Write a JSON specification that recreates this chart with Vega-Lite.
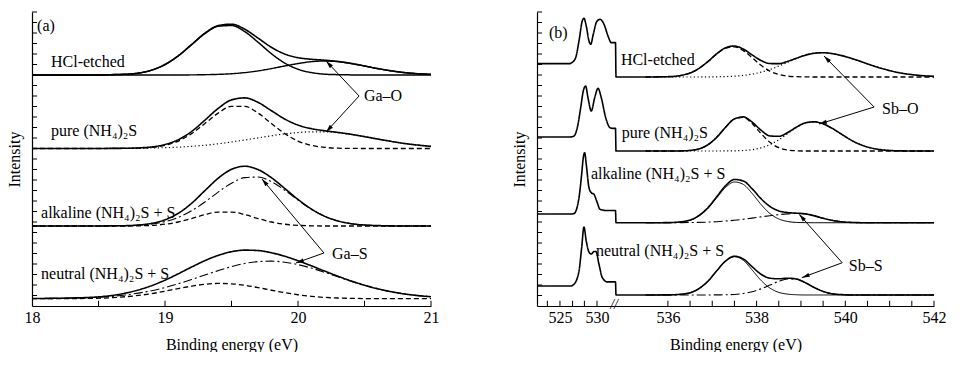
{
"$schema":"https://vega.github.io/schema/vega-lite/v6.json",
"background":"white",
"padding":{"left":6,"top":11,"right":0,"bottom":0},
"bounds":"flush",
"spacing":106,
"config":{"font":"Liberation Serif","view":{"stroke":null},
"axis":{"grid":false,"ticks":false,"domainColor":"black","labelColor":"black","titleColor":"black","labelFont":"Liberation Serif","titleFont":"Liberation Serif","labelFontSize":16,"titleFontSize":16,"titleFontWeight":"normal","domainWidth":1.2}},
"datasets":{
"a":[
{"s":"h","E":18.0,"env":22.00,"tA":22.00,"tB":22.00},
{"s":"h","E":18.4,"env":22.00,"tA":22.00,"tB":22.00},
{"s":"h","E":18.7,"env":22.07,"tA":22.07,"tB":22.00},
{"s":"h","E":18.9,"env":22.47,"tA":22.47,"tB":22.00},
{"s":"h","E":19.0,"env":23.00,"tA":23.00,"tB":22.00},
{"s":"h","E":19.1,"env":23.83,"tA":23.83,"tB":22.00},
{"s":"h","E":19.2,"env":24.90,"tA":24.89,"tB":22.01},
{"s":"h","E":19.3,"env":25.98,"tA":25.95,"tB":22.03},
{"s":"h","E":19.4,"env":26.70,"tA":26.64,"tB":22.06},
{"s":"h","E":19.5,"env":26.84,"tA":26.71,"tB":22.12},
{"s":"h","E":19.6,"env":26.36,"tA":26.13,"tB":22.23},
{"s":"h","E":19.7,"env":25.51,"tA":25.12,"tB":22.39},
{"s":"h","E":19.8,"env":24.64,"tA":24.03,"tB":22.61},
{"s":"h","E":19.9,"env":24.00,"tA":23.14,"tB":22.86},
{"s":"h","E":20.0,"env":23.65,"tA":22.55,"tB":23.09},
{"s":"h","E":20.1,"env":23.50,"tA":22.23,"tB":23.27},
{"s":"h","E":20.2,"env":23.41,"tA":22.08,"tB":23.33},
{"s":"h","E":20.3,"env":23.29,"tA":22.03,"tB":23.27},
{"s":"h","E":20.4,"env":23.10,"tA":22.01,"tB":23.09},
{"s":"h","E":20.5,"env":22.86,"tA":22.00,"tB":22.86},
{"s":"h","E":20.6,"env":22.61,"tA":22.00,"tB":22.61},
{"s":"h","E":20.8,"env":22.23,"tA":22.00,"tB":22.23},
{"s":"h","E":21.0,"env":22.06,"tA":22.00,"tB":22.06},
{"s":"p","E":18.0,"env":15.00,"dash":15.00,"dot":15.00},
{"s":"p","E":18.4,"env":15.00,"dash":15.00,"dot":15.00},
{"s":"p","E":18.7,"env":15.02,"dash":15.01,"dot":15.01},
{"s":"p","E":18.9,"env":15.15,"dash":15.11,"dot":15.05},
{"s":"p","E":19.0,"env":15.38,"dash":15.30,"dot":15.08},
{"s":"p","E":19.1,"env":15.84,"dash":15.71,"dot":15.13},
{"s":"p","E":19.2,"env":16.62,"dash":16.42,"dot":15.21},
{"s":"p","E":19.3,"env":17.70,"dash":17.38,"dot":15.31},
{"s":"p","E":19.4,"env":18.82,"dash":18.37,"dot":15.45},
{"s":"p","E":19.5,"env":19.63,"dash":19.01,"dot":15.62},
{"s":"p","E":19.6,"env":19.82,"dash":19.01,"dot":15.81},
{"s":"p","E":19.7,"env":19.39,"dash":18.37,"dot":16.01},
{"s":"p","E":19.8,"env":18.60,"dash":17.38,"dot":16.21},
{"s":"p","E":19.9,"env":17.81,"dash":16.42,"dot":16.39},
{"s":"p","E":20.0,"env":17.23,"dash":15.71,"dot":16.52},
{"s":"p","E":20.1,"env":16.89,"dash":15.30,"dot":16.59},
{"s":"p","E":20.2,"env":16.69,"dash":15.11,"dot":16.59},
{"s":"p","E":20.3,"env":16.53,"dash":15.03,"dot":16.50},
{"s":"p","E":20.4,"env":16.35,"dash":15.01,"dot":16.34},
{"s":"p","E":20.5,"env":16.13,"dash":15.00,"dot":16.13},
{"s":"p","E":20.6,"env":15.90,"dash":15.00,"dot":15.90},
{"s":"p","E":20.8,"env":15.48,"dash":15.00,"dot":15.48},
{"s":"p","E":21.0,"env":15.20,"dash":15.00,"dot":15.20},
{"s":"a","E":18.0,"env":7.62,"dash":7.62,"dd":7.62},
{"s":"a","E":18.4,"env":7.62,"dash":7.62,"dd":7.62},
{"s":"a","E":18.7,"env":7.65,"dash":7.62,"dd":7.65},
{"s":"a","E":18.9,"env":7.87,"dash":7.68,"dd":7.81},
{"s":"a","E":19.0,"env":8.21,"dash":7.79,"dd":8.04},
{"s":"a","E":19.1,"env":8.83,"dash":8.00,"dd":8.44},
{"s":"a","E":19.2,"env":9.78,"dash":8.33,"dd":9.07},
{"s":"a","E":19.3,"env":10.99,"dash":8.70,"dd":9.91},
{"s":"a","E":19.4,"env":12.17,"dash":8.95,"dd":10.85},
{"s":"a","E":19.5,"env":13.02,"dash":8.95,"dd":11.70},
{"s":"a","E":19.6,"env":13.31,"dash":8.70,"dd":12.23},
{"s":"a","E":19.7,"env":12.99,"dash":8.33,"dd":12.28},
{"s":"a","E":19.8,"env":12.22,"dash":8.00,"dd":11.84},
{"s":"a","E":19.9,"env":11.20,"dash":7.79,"dd":11.03},
{"s":"a","E":20.0,"env":10.15,"dash":7.68,"dd":10.09},
{"s":"a","E":20.1,"env":9.24,"dash":7.64,"dd":9.22},
{"s":"a","E":20.2,"env":8.55,"dash":7.62,"dd":8.55},
{"s":"a","E":20.3,"env":8.10,"dash":7.62,"dd":8.10},
{"s":"a","E":20.4,"env":7.84,"dash":7.62,"dd":7.84},
{"s":"a","E":20.5,"env":7.71,"dash":7.62,"dd":7.71},
{"s":"a","E":20.6,"env":7.66,"dash":7.62,"dd":7.66},
{"s":"a","E":20.8,"env":7.62,"dash":7.62,"dd":7.62},
{"s":"a","E":21.0,"env":7.62,"dash":7.62,"dd":7.62},
{"s":"n","E":18.0,"env":0.71,"dash":0.70,"dd":0.71},
{"s":"n","E":18.4,"env":0.80,"dash":0.72,"dd":0.78},
{"s":"n","E":18.7,"env":1.22,"dash":0.88,"dd":1.05},
{"s":"n","E":18.9,"env":1.94,"dash":1.18,"dd":1.46},
{"s":"n","E":19.0,"env":2.46,"dash":1.41,"dd":1.76},
{"s":"n","E":19.1,"env":3.07,"dash":1.66,"dd":2.12},
{"s":"n","E":19.2,"env":3.71,"dash":1.89,"dd":2.52},
{"s":"n","E":19.3,"env":4.32,"dash":2.07,"dd":2.95},
{"s":"n","E":19.4,"env":4.82,"dash":2.15,"dd":3.37},
{"s":"n","E":19.5,"env":5.17,"dash":2.11,"dd":3.75},
{"s":"n","E":19.6,"env":5.32,"dash":1.97,"dd":4.05},
{"s":"n","E":19.7,"env":5.28,"dash":1.75,"dd":4.23},
{"s":"n","E":19.8,"env":5.07,"dash":1.50,"dd":4.27},
{"s":"n","E":19.9,"env":4.74,"dash":1.27,"dd":4.17},
{"s":"n","E":20.0,"env":4.31,"dash":1.07,"dd":3.94},
{"s":"n","E":20.1,"env":3.83,"dash":0.92,"dd":3.61},
{"s":"n","E":20.2,"env":3.33,"dash":0.82,"dd":3.21},
{"s":"n","E":20.3,"env":2.84,"dash":0.76,"dd":2.78},
{"s":"n","E":20.4,"env":2.38,"dash":0.73,"dd":2.36},
{"s":"n","E":20.5,"env":1.98,"dash":0.71,"dd":1.97},
{"s":"n","E":20.6,"env":1.64,"dash":0.71,"dd":1.63},
{"s":"n","E":20.8,"env":1.15,"dash":0.70,"dd":1.15},
{"s":"n","E":21.0,"env":0.88,"dash":0.70,"dd":0.88}
],
"b":[
{"s":"h","E":521.9,"env":23.08},{"s":"h","E":526.3,"env":23.08},{"s":"h","E":526.62,"env":23.18},{"s":"h","E":527.12,"env":23.65},{"s":"h","E":527.57,"env":25.24},{"s":"h","E":528.01,"env":27.14},{"s":"h","E":528.24,"env":27.40},{"s":"h","E":528.55,"env":26.67},{"s":"h","E":528.92,"env":25.24},{"s":"h","E":529.15,"env":24.92},{"s":"h","E":529.5,"env":25.88},{"s":"h","E":529.96,"env":27.08},{"s":"h","E":530.41,"env":27.30},{"s":"h","E":530.95,"env":26.83},{"s":"h","E":531.49,"env":25.71},{"s":"h","E":531.93,"env":25.08},{"s":"h","E":532.5,"env":25.08},
{"s":"p","E":521.9,"env":16.10},{"s":"p","E":526.4,"env":16.10},{"s":"p","E":526.89,"env":16.19},{"s":"p","E":527.34,"env":16.98},{"s":"p","E":527.80,"env":18.89},{"s":"p","E":528.15,"env":20.48},{"s":"p","E":528.47,"env":20.95},{"s":"p","E":528.78,"env":19.84},{"s":"p","E":529.23,"env":18.57},{"s":"p","E":529.69,"env":19.84},{"s":"p","E":530.14,"env":20.73},{"s":"p","E":530.58,"env":19.84},{"s":"p","E":531.18,"env":17.93},{"s":"p","E":531.76,"env":16.98},{"s":"p","E":532.07,"env":16.92},{"s":"p","E":532.5,"env":16.92},
{"s":"a","E":521.9,"env":8.76},{"s":"a","E":526.4,"env":8.76},{"s":"a","E":526.89,"env":8.80},{"s":"a","E":527.57,"env":10.31},{"s":"a","E":527.93,"env":12.54},{"s":"a","E":528.15,"env":14.12},{"s":"a","E":528.34,"env":14.60},{"s":"a","E":528.55,"env":13.50},{"s":"a","E":528.92,"env":11.27},{"s":"a","E":529.23,"env":10.79},{"s":"a","E":529.59,"env":10.64},{"s":"a","E":529.96,"env":10.00},{"s":"a","E":530.41,"env":9.21},{"s":"a","E":531.18,"env":9.10},{"s":"a","E":532.07,"env":9.10},{"s":"a","E":532.5,"env":9.10},
{"s":"n","E":521.9,"env":1.90},{"s":"n","E":526.4,"env":1.90},{"s":"n","E":526.89,"env":2.07},{"s":"n","E":527.57,"env":3.33},{"s":"n","E":527.93,"env":5.55},{"s":"n","E":528.24,"env":7.52},{"s":"n","E":528.55,"env":6.19},{"s":"n","E":528.92,"env":5.14},{"s":"n","E":529.23,"env":4.95},{"s":"n","E":529.59,"env":5.19},{"s":"n","E":529.86,"env":5.19},{"s":"n","E":530.27,"env":3.97},{"s":"n","E":530.72,"env":2.70},{"s":"n","E":531.39,"env":2.30},{"s":"n","E":532.5,"env":2.30},
{"s":"h","E":534.83,"env":21.81},
{"s":"h","E":535.5,"env":21.81,"dash":21.81,"dot":21.81},
{"s":"h","E":536.0,"env":21.84,"dash":21.84,"dot":21.81},
{"s":"h","E":536.3,"env":21.96,"dash":21.96,"dot":21.81},
{"s":"h","E":536.6,"env":22.38,"dash":22.37,"dot":21.81},
{"s":"h","E":536.9,"env":23.27,"dash":23.27,"dot":21.82},
{"s":"h","E":537.1,"env":24.02,"dash":24.00,"dot":21.83},
{"s":"h","E":537.3,"env":24.59,"dash":24.56,"dot":21.85},
{"s":"h","E":537.5,"env":24.76,"dash":24.68,"dot":21.89},
{"s":"h","E":537.7,"env":24.47,"dash":24.32,"dot":21.96},
{"s":"h","E":537.9,"env":23.91,"dash":23.64,"dot":22.08},
{"s":"h","E":538.1,"env":23.38,"dash":22.92,"dot":22.27},
{"s":"h","E":538.3,"env":23.09,"dash":22.37,"dot":22.52},
{"s":"h","E":538.5,"env":23.08,"dash":22.05,"dot":22.85},
{"s":"h","E":538.7,"env":23.30,"dash":21.89,"dot":23.21},
{"s":"h","E":538.9,"env":23.60,"dash":21.84,"dot":23.58},
{"s":"h","E":539.1,"env":23.89,"dash":21.82,"dot":23.88},
{"s":"h","E":539.3,"env":24.07,"dash":21.81,"dot":24.07},
{"s":"h","E":539.5,"env":24.12,"dash":21.81,"dot":24.12},
{"s":"h","E":539.7,"env":24.04,"dash":21.81,"dot":24.04},
{"s":"h","E":539.9,"env":23.87,"dash":21.81,"dot":23.87},
{"s":"h","E":540.2,"env":23.50,"dash":21.81,"dot":23.50},
{"s":"h","E":540.5,"env":23.06,"dash":21.81,"dot":23.06},
{"s":"h","E":540.8,"env":22.65,"dash":21.81,"dot":22.65},
{"s":"h","E":541.2,"env":22.23,"dash":21.81,"dot":22.23},
{"s":"h","E":541.6,"env":21.99,"dash":21.81,"dot":21.99},
{"s":"h","E":542.0,"env":21.87,"dash":21.81,"dot":21.87},
{"s":"p","E":534.83,"env":14.76},
{"s":"p","E":535.5,"env":14.76,"dash":14.76,"dot":14.76},
{"s":"p","E":536.0,"env":14.76,"dash":14.76,"dot":14.76},
{"s":"p","E":536.3,"env":14.77,"dash":14.77,"dot":14.76},
{"s":"p","E":536.6,"env":14.87,"dash":14.87,"dot":14.76},
{"s":"p","E":536.9,"env":15.35,"dash":15.35,"dot":14.76},
{"s":"p","E":537.1,"env":16.06,"dash":16.06,"dot":14.76},
{"s":"p","E":537.3,"env":17.02,"dash":17.02,"dot":14.77},
{"s":"p","E":537.5,"env":17.82,"dash":17.81,"dot":14.78},
{"s":"p","E":537.7,"env":18.01,"dash":17.96,"dot":14.81},
{"s":"p","E":537.9,"env":17.51,"dash":17.38,"dot":14.89},
{"s":"p","E":538.1,"env":16.74,"dash":16.43,"dot":15.06},
{"s":"p","E":538.3,"env":16.20,"dash":15.59,"dot":15.37},
{"s":"p","E":538.5,"env":16.16,"dash":15.08,"dot":15.83},
{"s":"p","E":538.7,"env":16.52,"dash":14.86,"dot":16.42},
{"s":"p","E":538.9,"env":17.04,"dash":14.78,"dot":17.01},
{"s":"p","E":539.1,"env":17.44,"dash":14.76,"dot":17.44},
{"s":"p","E":539.3,"env":17.54,"dash":14.76,"dot":17.54},
{"s":"p","E":539.5,"env":17.35,"dash":14.76,"dot":17.35},
{"s":"p","E":539.7,"env":16.93,"dash":14.76,"dot":16.93},
{"s":"p","E":539.9,"env":16.40,"dash":14.76,"dot":16.40},
{"s":"p","E":540.2,"env":15.64,"dash":14.76,"dot":15.64},
{"s":"p","E":540.5,"env":15.14,"dash":14.76,"dot":15.14},
{"s":"p","E":540.8,"env":14.89,"dash":14.76,"dot":14.89},
{"s":"p","E":541.2,"env":14.78,"dash":14.76,"dot":14.78},
{"s":"p","E":541.6,"env":14.76,"dash":14.76,"dot":14.76},
{"s":"p","E":542.0,"env":14.76,"dash":14.76,"dot":14.76},
{"s":"a","E":534.83,"env":7.93},
{"s":"a","E":535.5,"env":7.93,"sdash":7.93,"dd":7.93},
{"s":"a","E":536.0,"env":7.94,"sdash":7.94,"dd":7.93},
{"s":"a","E":536.3,"env":8.02,"sdash":8.00,"dd":7.94},
{"s":"a","E":536.6,"env":8.36,"sdash":8.33,"dd":7.96},
{"s":"a","E":536.9,"env":9.35,"sdash":9.28,"dd":7.99},
{"s":"a","E":537.1,"env":10.40,"sdash":10.30,"dd":8.03},
{"s":"a","E":537.3,"env":11.45,"sdash":11.29,"dd":8.09},
{"s":"a","E":537.5,"env":12.05,"sdash":11.81,"dd":8.17},
{"s":"a","E":537.7,"env":11.91,"sdash":11.58,"dd":8.26},
{"s":"a","E":537.9,"env":11.16,"sdash":10.72,"dd":8.37},
{"s":"a","E":538.1,"env":10.22,"sdash":9.67,"dd":8.49},
{"s":"a","E":538.3,"env":9.48,"sdash":8.81,"dd":8.60},
{"s":"a","E":538.5,"env":9.06,"sdash":8.29,"dd":8.70},
{"s":"a","E":538.7,"env":8.90,"sdash":8.05,"dd":8.77},
{"s":"a","E":538.9,"env":8.84,"sdash":7.96,"dd":8.81},
{"s":"a","E":539.1,"env":8.78,"sdash":7.94,"dd":8.77},
{"s":"a","E":539.3,"env":8.59,"sdash":7.93,"dd":8.59},
{"s":"a","E":539.5,"env":8.36,"sdash":7.93,"dd":8.36},
{"s":"a","E":539.7,"env":8.16,"sdash":7.93,"dd":8.16},
{"s":"a","E":539.9,"env":8.03,"sdash":7.93,"dd":8.03},
{"s":"a","E":540.2,"env":7.95,"sdash":7.93,"dd":7.95},
{"s":"a","E":540.5,"env":7.93,"sdash":7.93,"dd":7.93},
{"s":"a","E":540.8,"env":7.93,"sdash":7.93,"dd":7.93},
{"s":"a","E":541.2,"env":7.93,"sdash":7.93,"dd":7.93},
{"s":"a","E":541.6,"env":7.93,"sdash":7.93,"dd":7.93},
{"s":"a","E":542.0,"env":7.93,"sdash":7.93,"dd":7.93},
{"s":"n","E":534.83,"env":1.05},
{"s":"n","E":535.5,"env":1.05,"sdash":1.05,"dd":1.05},
{"s":"n","E":536.0,"env":1.06,"sdash":1.06,"dd":1.05},
{"s":"n","E":536.3,"env":1.12,"sdash":1.12,"dd":1.05},
{"s":"n","E":536.6,"env":1.42,"sdash":1.42,"dd":1.05},
{"s":"n","E":536.9,"env":2.35,"sdash":2.33,"dd":1.05},
{"s":"n","E":537.1,"env":3.35,"sdash":3.33,"dd":1.06},
{"s":"n","E":537.3,"env":4.28,"sdash":4.27,"dd":1.07},
{"s":"n","E":537.5,"env":4.74,"sdash":4.69,"dd":1.10},
{"s":"n","E":537.7,"env":4.48,"sdash":4.35,"dd":1.19},
{"s":"n","E":537.9,"env":3.74,"sdash":3.43,"dd":1.36},
{"s":"n","E":538.1,"env":3.02,"sdash":2.44,"dd":1.63},
{"s":"n","E":538.3,"env":2.65,"sdash":1.71,"dd":1.99},
{"s":"n","E":538.5,"env":2.59,"sdash":1.30,"dd":2.35},
{"s":"n","E":538.7,"env":2.65,"sdash":1.13,"dd":2.57},
{"s":"n","E":538.9,"env":2.57,"sdash":1.07,"dd":2.55},
{"s":"n","E":539.1,"env":2.22,"sdash":1.05,"dd":2.22},
{"s":"n","E":539.3,"env":1.76,"sdash":1.05,"dd":1.76},
{"s":"n","E":539.5,"env":1.39,"sdash":1.05,"dd":1.39},
{"s":"n","E":539.7,"env":1.17,"sdash":1.05,"dd":1.17},
{"s":"n","E":539.9,"env":1.09,"sdash":1.05,"dd":1.09},
{"s":"n","E":540.2,"env":1.05,"sdash":1.05,"dd":1.05},
{"s":"n","E":540.5,"env":1.05,"sdash":1.05,"dd":1.05},
{"s":"n","E":541.2,"env":1.05,"sdash":1.05,"dd":1.05},
{"s":"n","E":542.0,"env":1.05,"sdash":1.05,"dd":1.05}
],
"la":[
{"t":"(a)","E":18.038,"I":26.67},
{"t":"HCl-etched","E":18.143,"I":23.24},
{"t":"pure (NH₄)₂S","E":18.143,"I":16.67},
{"t":"alkaline (NH₄)₂S + S","E":18.068,"I":8.89},
{"t":"neutral (NH₄)₂S + S","E":18.068,"I":3.05},
{"t":"Ga–O","E":20.496,"I":20.0},
{"t":"Ga–S","E":20.256,"I":4.95}
],
"lb":[
{"t":"(b)","E":523.51,"I":26.0},
{"t":"HCl-etched","E":534.94,"I":23.43},
{"t":"pure (NH₄)₂S","E":534.96,"I":16.48},
{"t":"alkaline (NH₄)₂S + S","E":529.19,"I":12.57},
{"t":"neutral (NH₄)₂S + S","E":529.86,"I":5.24},
{"t":"Sb–O","E":540.83,"I":18.76},
{"t":"Sb–S","E":540.08,"I":3.81}
],
"ra":[
{"E":20.459,"I":20.0,"E2":20.211,"I2":23.33,"dir":316.7},
{"E":20.459,"I":20.0,"E2":20.211,"I2":16.57,"dir":222.5},
{"E":20.195,"I":5.05,"E2":19.729,"I2":12.10,"dir":320},
{"E":20.195,"I":5.05,"E2":19.985,"I2":4.10,"dir":252}
],
"rb":[
{"E":540.65,"I":18.95,"E2":539.52,"I2":23.81,"dir":315.6},
{"E":540.65,"I":18.95,"E2":539.41,"I2":17.33,"dir":252.8},
{"E":539.93,"I":4.12,"E2":538.96,"I2":8.73,"dir":318.4},
{"E":539.93,"I":4.12,"E2":539.02,"I2":2.70,"dir":249.4}
],
"brk":[{"t":"//","E":532.3,"I":0.1}],
"tax":[{"v":18.5},{"v":19},{"v":19.5},{"v":20},{"v":20.5},{"v":21}],
"tbx":[{"v":523.3},{"v":525},{"v":526.7},{"v":528.3},{"v":530},{"v":536},{"v":536.5},{"v":537},{"v":537.5},{"v":538},{"v":538.5},{"v":539},{"v":539.5},{"v":540},{"v":540.5},{"v":541},{"v":541.5},{"v":542}],
"ty":[{"v":1},{"v":2},{"v":3},{"v":4},{"v":5},{"v":6},{"v":7},{"v":8},{"v":9},{"v":10},{"v":11},{"v":12},{"v":13},{"v":14},{"v":15},{"v":16},{"v":17},{"v":18},{"v":19},{"v":20},{"v":21},{"v":22},{"v":23},{"v":24},{"v":25},{"v":26},{"v":27},{"v":28}]
},
"hconcat":[
{"width":399,"height":294,
"layer":[
{"data":{"name":"a"},
"transform":[{"fold":["env","tA","tB","dash","dot","dd"],"as":["k","I"]},{"filter":"isValid(datum.I)"}],
"mark":{"type":"line","interpolate":"monotone","color":"black"},
"encoding":{
"x":{"field":"E","type":"quantitative","scale":{"domain":[18,21],"nice":false,"zero":false},
"axis":{"title":"Binding energy (eV)","values":[18,19,20,21],"format":"d","labelOverlap":false,"labelFlush":false,"labelPadding":3,"titlePadding":11}},
"y":{"field":"I","type":"quantitative","scale":{"domain":[0,28],"nice":false,"zero":false},
"axis":{"title":"Intensity","labels":false,"titlePadding":10}},
"detail":{"field":"s","type":"nominal"},
"strokeDash":{"field":"k","type":"nominal","scale":{"domain":["env","tA","tB","dash","dot","dd"],"range":[[1,0],[1,0],[1,0],[5,3],[1.2,2.5],[9,3,2,3]]},"legend":null},
"strokeWidth":{"field":"k","type":"ordinal","scale":{"domain":["env","tA","tB","dash","dot","dd"],"range":[1.6,1,1,1.1,1.2,1.1]},"legend":null}
}},
{"data":{"name":"tax"},"mark":{"type":"rule","color":"black","strokeWidth":1},
"encoding":{"x":{"field":"v","type":"quantitative","scale":{"domain":[18,21],"nice":false,"zero":false}},"y":{"datum":0,"type":"quantitative","scale":{"domain":[0,28],"nice":false,"zero":false}},"y2":{"datum":0.5}}},
{"data":{"name":"ty"},"mark":{"type":"rule","color":"black","strokeWidth":1},
"encoding":{"y":{"field":"v","type":"quantitative","scale":{"domain":[0,28],"nice":false,"zero":false}},"x":{"datum":18,"type":"quantitative","scale":{"domain":[18,21],"nice":false,"zero":false}},"x2":{"datum":18.038}}},
{"data":{"name":"ra"},"mark":{"type":"rule","color":"black","strokeWidth":1},
"encoding":{"x":{"field":"E","type":"quantitative","scale":{"domain":[18,21],"nice":false,"zero":false}},"y":{"field":"I","type":"quantitative","scale":{"domain":[0,28],"nice":false,"zero":false}},"x2":{"field":"E2"},"y2":{"field":"I2"}}},
{"data":{"name":"ra"},"mark":{"type":"point","shape":"M0,0L0.7,2.6L-0.7,2.6Z","filled":true,"color":"black","size":36,"opacity":1},
"encoding":{"x":{"field":"E2","type":"quantitative","scale":{"domain":[18,21],"nice":false,"zero":false}},"y":{"field":"I2","type":"quantitative","scale":{"domain":[0,28],"nice":false,"zero":false}},"angle":{"field":"dir","type":"quantitative","scale":null}}},
{"data":{"name":"la"},"mark":{"type":"text","align":"left","baseline":"middle","fontSize":16,"font":"Liberation Serif","color":"black"},
"encoding":{"x":{"field":"E","type":"quantitative","scale":{"domain":[18,21],"nice":false,"zero":false}},"y":{"field":"I","type":"quantitative","scale":{"domain":[0,28],"nice":false,"zero":false}},"text":{"field":"t"}}}
]},
{"width":397,"height":294,
"layer":[
{"data":{"name":"b"},
"transform":[{"fold":["env","dash","dot","sdash","dd"],"as":["k","I"]},{"filter":"isValid(datum.I)"}],
"mark":{"type":"line","interpolate":"monotone","color":"black"},
"encoding":{
"x":{"field":"E","type":"quantitative","scale":{"domain":[521.9,532.5,534.83,542],"range":[0,78.5,79,397],"nice":false,"zero":false},
"axis":{"title":"Binding energy (eV)","values":[525,530,536,538,540,542],"format":"d","labelOverlap":false,"labelFlush":false,"labelPadding":3,"titlePadding":11}},
"y":{"field":"I","type":"quantitative","scale":{"domain":[0,28],"nice":false,"zero":false},
"axis":{"title":"Intensity","labels":false,"titlePadding":10}},
"detail":{"field":"s","type":"nominal"},
"strokeDash":{"field":"k","type":"nominal","scale":{"domain":["env","dash","dot","sdash","dd"],"range":[[1,0],[6,3],[1.2,2.5],[4,3],[9,3,2,3]]},"legend":null},
"strokeWidth":{"field":"k","type":"ordinal","scale":{"domain":["env","dash","dot","sdash","dd"],"range":[1.6,1.1,1.2,1.1,1.1]},"legend":null}
}},
{"data":{"name":"tbx"},"mark":{"type":"rule","color":"black","strokeWidth":1},
"encoding":{"x":{"field":"v","type":"quantitative","scale":{"domain":[521.9,532.5,534.83,542],"range":[0,78.5,79,397],"nice":false,"zero":false}},"y":{"datum":0,"type":"quantitative","scale":{"domain":[0,28],"nice":false,"zero":false}},"y2":{"datum":0.5}}},
{"data":{"name":"ty"},"mark":{"type":"rule","color":"black","strokeWidth":1},
"encoding":{"y":{"field":"v","type":"quantitative","scale":{"domain":[0,28],"nice":false,"zero":false}},"x":{"datum":521.9,"type":"quantitative","scale":{"domain":[521.9,532.5,534.83,542],"range":[0,78.5,79,397],"nice":false,"zero":false}},"x2":{"datum":522.58}}},
{"data":{"name":"rb"},"mark":{"type":"rule","color":"black","strokeWidth":1},
"encoding":{"x":{"field":"E","type":"quantitative","scale":{"domain":[521.9,532.5,534.83,542],"range":[0,78.5,79,397],"nice":false,"zero":false}},"y":{"field":"I","type":"quantitative","scale":{"domain":[0,28],"nice":false,"zero":false}},"x2":{"field":"E2"},"y2":{"field":"I2"}}},
{"data":{"name":"rb"},"mark":{"type":"point","shape":"M0,0L0.7,2.6L-0.7,2.6Z","filled":true,"color":"black","size":36,"opacity":1},
"encoding":{"x":{"field":"E2","type":"quantitative","scale":{"domain":[521.9,532.5,534.83,542],"range":[0,78.5,79,397],"nice":false,"zero":false}},"y":{"field":"I2","type":"quantitative","scale":{"domain":[0,28],"nice":false,"zero":false}},"angle":{"field":"dir","type":"quantitative","scale":null}}},
{"data":{"name":"lb"},"mark":{"type":"text","align":"left","baseline":"middle","fontSize":16,"font":"Liberation Serif","color":"black"},
"encoding":{"x":{"field":"E","type":"quantitative","scale":{"domain":[521.9,532.5,534.83,542],"range":[0,78.5,79,397],"nice":false,"zero":false}},"y":{"field":"I","type":"quantitative","scale":{"domain":[0,28],"nice":false,"zero":false}},"text":{"field":"t"}}},
{"data":{"name":"brk"},"mark":{"type":"text","align":"center","baseline":"middle","fontSize":14,"font":"Liberation Serif","fontStyle":"italic","color":"black"},
"encoding":{"x":{"field":"E","type":"quantitative","scale":{"domain":[521.9,532.5,534.83,542],"range":[0,78.5,79,397],"nice":false,"zero":false}},"y":{"field":"I","type":"quantitative","scale":{"domain":[0,28],"nice":false,"zero":false}},"text":{"field":"t"}}}
]}
]
}
